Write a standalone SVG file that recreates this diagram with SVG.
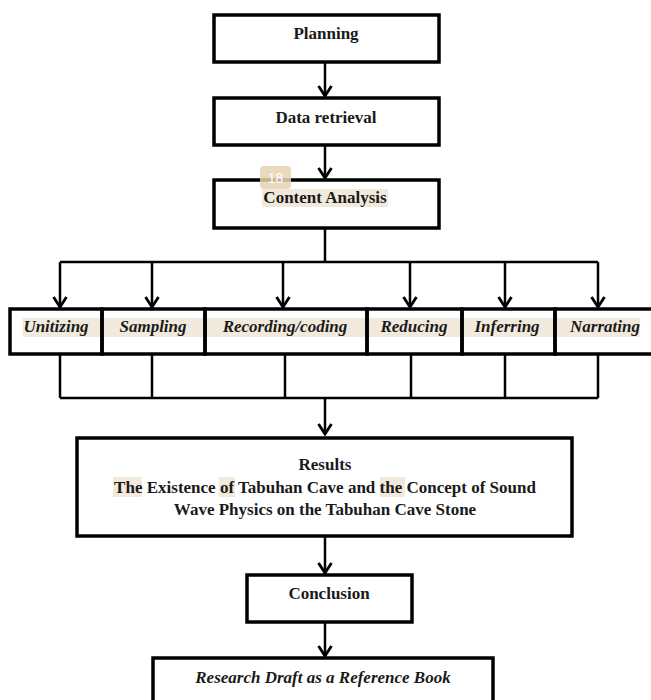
<svg xmlns="http://www.w3.org/2000/svg" width="651" height="700" viewBox="0 0 651 700">
<style>
.box{fill:none;stroke:#000;stroke-width:3.5}
.ln{fill:none;stroke:#000;stroke-width:2.5}
.t{font-family:"Liberation Serif","Times New Roman",serif;font-weight:bold;font-size:17px;fill:#1a1a1a;text-anchor:middle}
.i{font-style:italic}
.hl{fill:#efe5d6;opacity:0.85}
</style>
<defs>
<marker id="arr" viewBox="-12 -8 14 16" refX="0" refY="0" markerWidth="14" markerHeight="16" markerUnits="userSpaceOnUse" orient="auto">
<path d="M-10,-6.5 L0,0 L-10,6.5" fill="none" stroke="#000" stroke-width="2.8"/>
</marker>
</defs>
<rect width="651" height="700" fill="#fff"/>

<g id="connectors">
<path class="ln" d="M325,62 V96" marker-end="url(#arr)"/>
<path class="ln" d="M325,146 V178" marker-end="url(#arr)"/>
<path class="ln" d="M325,228 V262 M60,262 H598"/>
<path class="ln" d="M60,262 V307" marker-end="url(#arr)"/>
<path class="ln" d="M152,262 V307" marker-end="url(#arr)"/>
<path class="ln" d="M283,262 V307" marker-end="url(#arr)"/>
<path class="ln" d="M410,262 V307" marker-end="url(#arr)"/>
<path class="ln" d="M505,262 V307" marker-end="url(#arr)"/>
<path class="ln" d="M598,262 V307" marker-end="url(#arr)"/>
<path class="ln" d="M60,354 V398 M152,354 V398 M285,354 V398 M411,354 V398 M505,354 V398 M598,354 V398 M60,398 H598"/>
<path class="ln" d="M325,398 V434" marker-end="url(#arr)"/>
<path class="ln" d="M325,536 V573" marker-end="url(#arr)"/>
<path class="ln" d="M325,622 V656" marker-end="url(#arr)"/>
</g>

<g id="planning">
<rect class="box" x="214" y="15" width="225" height="47"/>
<text class="t" x="326" y="39">Planning</text>
</g>
<g id="data-retrieval">
<rect class="box" x="214" y="98" width="225" height="47"/>
<text class="t" x="326" y="123">Data retrieval</text>
</g>
<g id="content-analysis">
<rect class="hl" x="262" y="189" width="126" height="18"/>
<rect class="box" x="214" y="180" width="225" height="48"/>
<text class="t" x="325" y="203">Content Analysis</text>
<rect x="260" y="166" width="31" height="23" rx="4" fill="#e6d2b0" opacity="0.85"/>
<text x="275.5" y="183" font-family="Liberation Sans, Arial, sans-serif" font-size="14" fill="#fff" text-anchor="middle">18</text>
</g>

<rect class="hl" x="23" y="318" width="617" height="19"/>
<g id="unitizing">
<rect class="box" x="10" y="309" width="92" height="45"/>
<text class="t i" x="56" y="332">Unitizing</text>
</g>
<g id="sampling">
<rect class="box" x="102" y="309" width="103" height="45"/>
<text class="t i" x="153" y="332">Sampling</text>
</g>
<g id="recording-coding">
<rect class="box" x="205" y="309" width="162" height="45"/>
<text class="t i" x="285" y="332">Recording/coding</text>
</g>
<g id="reducing">
<rect class="box" x="367" y="309" width="95" height="45"/>
<text class="t i" x="414" y="332">Reducing</text>
</g>
<g id="inferring">
<rect class="box" x="462" y="309" width="93" height="45"/>
<text class="t i" x="507" y="332">Inferring</text>
</g>
<g id="narrating">
<rect class="box" x="555" y="309" width="100" height="45"/>
<text class="t i" x="605" y="332">Narrating</text>
</g>

<g id="results">
<rect class="hl" x="113" y="477" width="29" height="20"/>
<rect class="hl" x="219" y="477" width="16" height="20"/>
<rect class="hl" x="380" y="477" width="25" height="20"/>
<rect class="box" x="77" y="438" width="495" height="98"/>
<text class="t" x="325" y="470">Results</text>
<text class="t" x="325" y="493">The Existence of Tabuhan Cave and the Concept of Sound</text>
<text class="t" x="325" y="515">Wave Physics on the Tabuhan Cave Stone</text>
</g>

<g id="conclusion">
<rect class="box" x="247" y="575" width="165" height="47"/>
<text class="t" x="329" y="599">Conclusion</text>
</g>

<g id="research-draft">
<rect class="box" x="153" y="658" width="340" height="60"/>
<text class="t i" x="323" y="683">Research Draft as a Reference Book</text>
</g>
</svg>
